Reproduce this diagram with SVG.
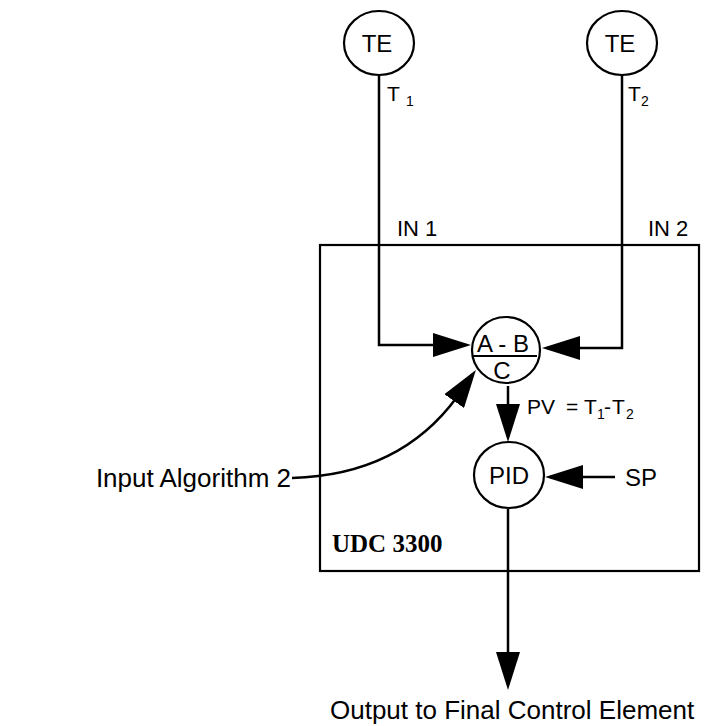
<svg xmlns="http://www.w3.org/2000/svg" width="706" height="726" viewBox="0 0 706 726">
<defs>
<style>
.ln{fill:none;stroke:#000;stroke-width:2.5}
.nd{fill:#fff;stroke:#000;stroke-width:2.2}
.t{font-family:"Liberation Sans",Arial,sans-serif;fill:#000}
.big{font-size:24px}
.mid{font-size:21px}
.sub{font-size:14px}
.out{font-size:26px}
.udc{font-family:"Liberation Serif","Times New Roman",serif;font-weight:bold;font-size:25px;fill:#000}
</style>
<marker id="ah" viewBox="0 0 38 24" markerWidth="38" markerHeight="24" refX="33" refY="12" orient="auto" markerUnits="userSpaceOnUse">
<path d="M0,0 L38,12 L0,24 Z" fill="#000"/>
</marker>
</defs>
<rect width="706" height="726" fill="#fff"/>

<g id="udc-box">
<rect x="320" y="245" width="379" height="326" fill="none" stroke="#000" stroke-width="2.2"/>
<text class="udc" x="332" y="552">UDC 3300</text>
</g>

<g id="connectors">
<path class="ln" d="M292,478 Q400,475 457,397 L473,374" marker-end="url(#ah)"/>
<path class="ln" d="M379,75 V345 H466" marker-end="url(#ah)"/>
<path class="ln" d="M622,75 V348 H547" marker-end="url(#ah)"/>
<path class="ln" d="M508,386 V437" marker-end="url(#ah)"/>
<path class="ln" d="M615,477 H550" marker-end="url(#ah)"/>
<path class="ln" d="M508,509 V685" marker-end="url(#ah)"/>
</g>

<g id="te1">
<ellipse class="nd" cx="379" cy="43" rx="35" ry="32"/>
<text class="t big" x="377" y="52" text-anchor="middle">TE</text>
</g>
<g id="te2">
<ellipse class="nd" cx="622" cy="43" rx="35" ry="32"/>
<text class="t big" x="620" y="52" text-anchor="middle">TE</text>
</g>

<g id="labels">
<text class="t mid" x="387" y="101">T</text><text class="t sub" x="406" y="106">1</text>
<text class="t mid" x="628" y="101">T</text><text class="t sub" x="641" y="106">2</text>
<text class="t mid" x="397" y="236" style="font-size:22px">IN 1</text>
<text class="t mid" x="648" y="236" style="font-size:22px">IN 2</text>
<text class="t mid" x="527" y="414">PV</text>
<text class="t mid" x="566" y="414">=</text>
<text class="t mid" x="584" y="414">T</text>
<text class="t sub" x="597" y="419">1</text>
<text class="t mid" x="604" y="414">-</text>
<text class="t mid" x="612" y="414">T</text>
<text class="t sub" x="626" y="419">2</text>
<text class="t big" x="625" y="486">SP</text>
<text class="t out" x="291" y="487" text-anchor="end">Input Algorithm 2</text>
<text class="t out" x="330" y="719">Output to Final Control Element</text>
</g>

<g id="calc">
<ellipse class="nd" cx="506" cy="350" rx="34" ry="33"/>
<line x1="473" y1="356" x2="537" y2="356" stroke="#000" stroke-width="2"/>
<text class="t big" x="503" y="352" text-anchor="middle">A - B</text>
<text class="t big" x="502" y="379" text-anchor="middle">C</text>
</g>

<g id="pid">
<ellipse class="nd" cx="509" cy="475" rx="35" ry="33"/>
<text class="t big" x="509" y="484" text-anchor="middle">PID</text>
</g>
</svg>
